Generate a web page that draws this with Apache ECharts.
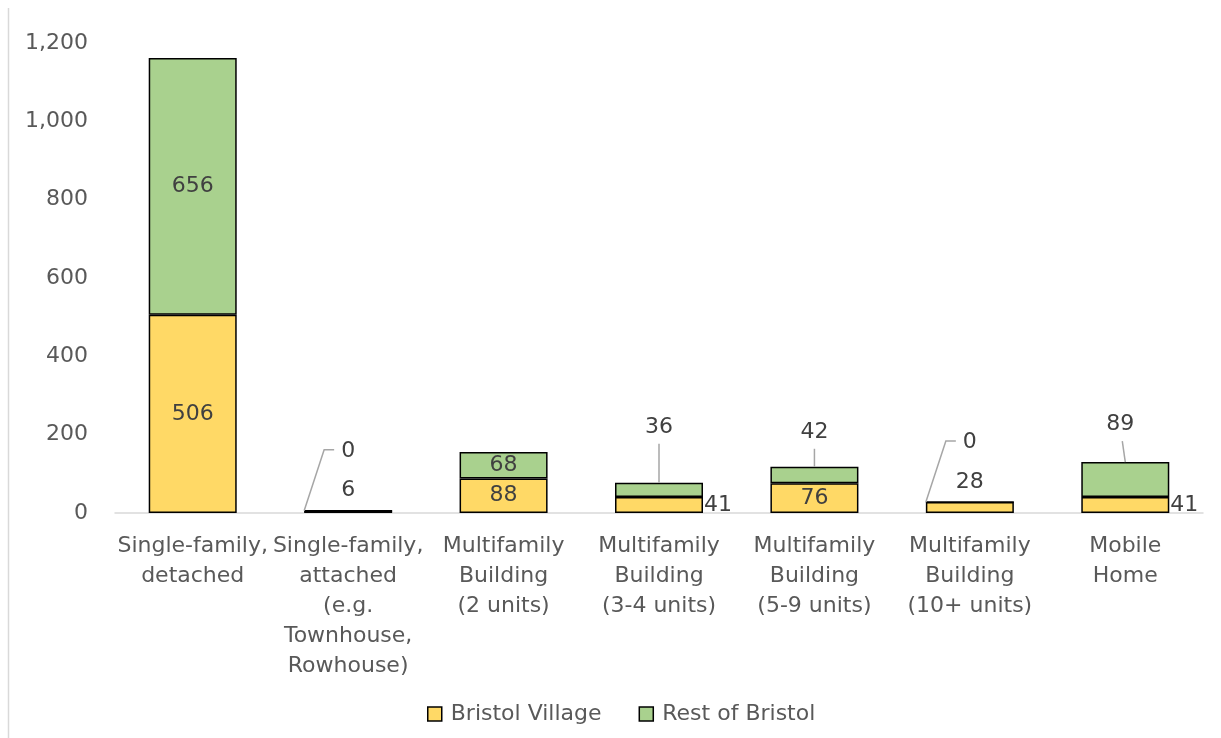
<!DOCTYPE html>
<html style="height: 100%">
   <head>
       <meta charset="utf-8">
       <title>Bristol housing units by type</title>
   </head>
   <body style="height: 100%; margin: 0; background: #fff">
        <div id="container" style="width: 1221px; height: 738px"></div>
        <script src="https://cdn.jsdelivr.net/npm/echarts@6/dist/echarts.min.js"></script>
        <script type="text/javascript">
            var categories = [
                'Single-family,\ndetached',
                'Single-family,\nattached\n(e.g.\nTownhouse,\nRowhouse)',
                'Multifamily\nBuilding\n(2 units)',
                'Multifamily\nBuilding\n(3-4 units)',
                'Multifamily\nBuilding\n(5-9 units)',
                'Multifamily\nBuilding\n(10+ units)',
                'Mobile\nHome'
            ];
            var villageValues = [506, 6, 88, 41, 76, 28, 41];
            var restValues = [656, 0, 68, 36, 42, 0, 89];

            // where each data label sits (Excel callouts)
            var villageLabelPos = ['inside', 'top', 'inside', 'right', 'inside', 'top', 'right'];
            var restLabelPos = ['inside', 'top', 'inside', 'top', 'top', 'top', 'top'];
            var restLabelDist = [0, 48, 0, 39, 18, 48, 21];
            var restLabelShift = [0, 0, 0, 0, 0, 0, -5];

            var FONT = 'DejaVu Sans';
            var labelColor = '#404040';
            var BAR_W = 88;

            var dom = document.getElementById("container");
            var myChart = echarts.init(dom);
            var option = null;

            var villageData = villageValues.map(function (v, i) {
                return {
                    value: v,
                    label: {
                        position: villageLabelPos[i],
                        distance: villageLabelPos[i] === 'top' ? 9 : 1
                    }
                };
            });
            var restData = restValues.map(function (v, i) {
                var item = {value: v, label: {position: restLabelPos[i]}};
                if (restLabelPos[i] === 'top') {
                    item.label.distance = restLabelDist[i];
                    item.label.offset = [restLabelShift[i], 0];
                    if (v !== 0) {
                        item.label.padding = [0, 0, 6, 0];
                    }
                }
                return item;
            });

            // leader lines for the "Rest" labels that sit above their bar
            var calloutData = [];
            restValues.forEach(function (v, i) {
                if (restLabelPos[i] === 'top') {
                    calloutData.push([i, villageValues[i] + v, v]);
                }
            });

            option = {
                backgroundColor: '#fff',
                animation: false,
                textStyle: {fontFamily: FONT},
                graphic: [{
                    type: 'line',
                    shape: {x1: 8.5, y1: 8, x2: 8.5, y2: 738},
                    style: {stroke: '#d9d9d9', lineWidth: 1.5}
                }],
                grid: {left: 115, right: 18, top: 43, bottom: 225},
                legend: {
                    left: 422,
                    top: 698,
                    itemWidth: 14,
                    itemHeight: 14,
                    itemGap: 37,
                    icon: 'rect',
                    data: ['Bristol Village', 'Rest of Bristol'],
                    itemStyle: {borderColor: '#000', borderWidth: 1.5},
                    textStyle: {fontFamily: FONT, fontSize: 22, color: '#595959', padding: [0, 0, 0, 4]}
                },
                xAxis: {
                    type: 'category',
                    data: categories,
                    axisLine: {lineStyle: {color: '#d9d9d9', width: 1.5}},
                    axisTick: {show: false},
                    axisLabel: {
                        interval: 0,
                        margin: 18,
                        fontFamily: FONT,
                        fontSize: 22,
                        lineHeight: 30,
                        color: '#595959'
                    }
                },
                yAxis: {
                    type: 'value',
                    min: 0,
                    max: 1200,
                    interval: 200,
                    axisLine: {show: false},
                    axisTick: {show: false},
                    splitLine: {show: false},
                    axisLabel: {
                        margin: 27,
                        fontFamily: FONT,
                        fontSize: 22,
                        color: '#595959',
                        formatter: function (v) {
                            return v.toString().replace(/\B(?=(\d{3})+(?!\d))/g, ',');
                        }
                    }
                },
                series: [
                    {
                        name: 'Bristol Village',
                        type: 'bar',
                        stack: 'total',
                        barWidth: BAR_W,
                        data: villageData,
                        itemStyle: {color: '#ffd966', borderColor: '#000', borderWidth: 1.5},
                        label: {show: true, color: labelColor, fontFamily: FONT, fontSize: 22}
                    },
                    {
                        name: 'Rest of Bristol',
                        type: 'bar',
                        stack: 'total',
                        barWidth: BAR_W,
                        data: restData,
                        itemStyle: {color: '#a9d18e', borderColor: '#000', borderWidth: 1.5},
                        label: {show: true, color: labelColor, fontFamily: FONT, fontSize: 22}
                    },
                    {
                        name: 'callouts',
                        type: 'custom',
                        silent: true,
                        z: 5,
                        data: calloutData,
                        renderItem: function (params, api) {
                            var i = api.value(0);
                            var p = api.coord([i, api.value(1)]);
                            var pts;
                            if (api.value(2) === 0) {
                                // zero segment: elbow from the bar's left corner
                                pts = [[p[0] - BAR_W / 2, p[1]], [p[0] - 24, p[1] - 61], [p[0] - 14, p[1] - 61]];
                            } else {
                                pts = [[p[0], p[1]], [p[0] + restLabelShift[i] * 0.6, p[1] - restLabelDist[i]]];
                            }
                            return {
                                type: 'polyline',
                                shape: {points: pts},
                                style: {stroke: '#a6a6a6', lineWidth: 1.5, fill: null}
                            };
                        }
                    }
                ]
            };
            if (option && typeof option === "object") {
                myChart.setOption(option, true);
            }
       </script>
   </body>
</html>
